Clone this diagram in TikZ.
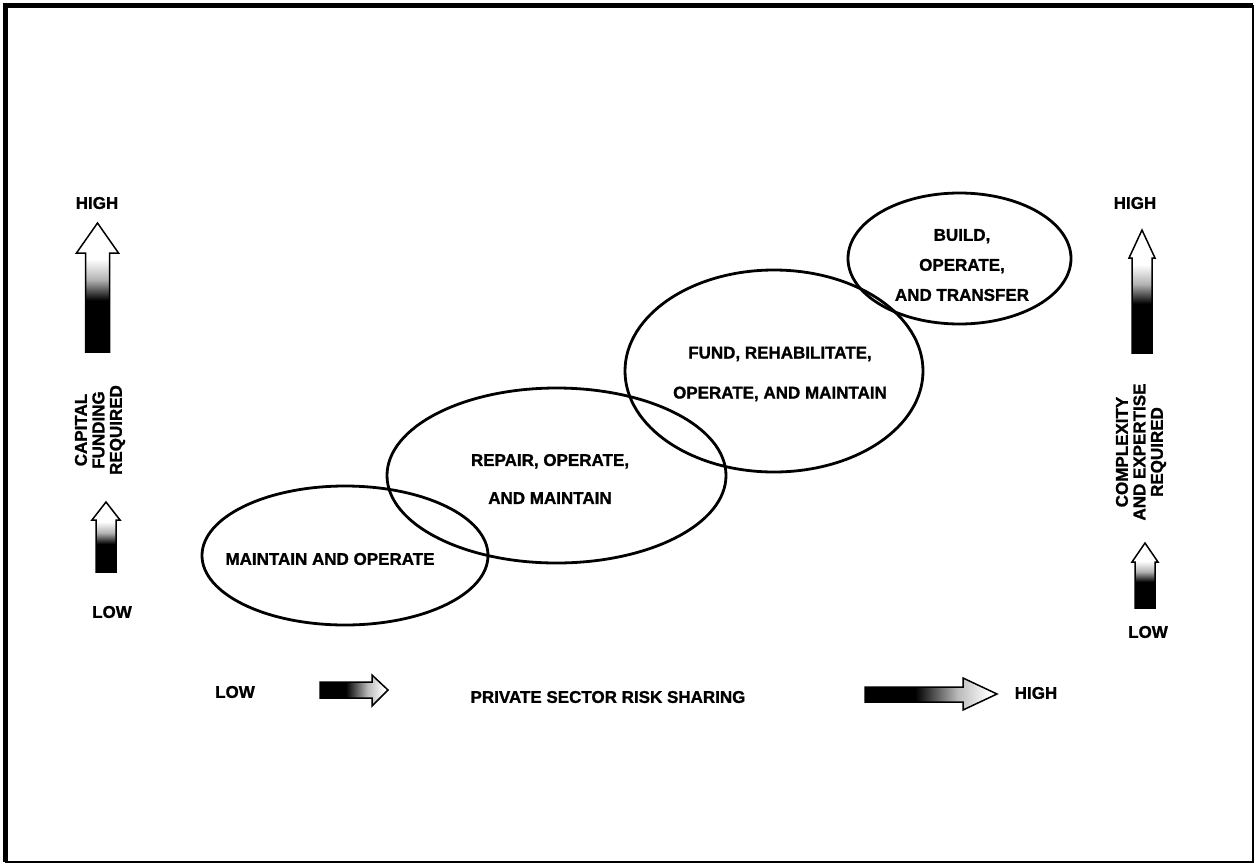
\documentclass[tikz,border=0pt]{standalone}
\usepackage{fontspec}
\setmainfont{Liberation Sans}[BoldFeatures={FakeBold=1.2}]
\usepackage{tikz}
\usetikzlibrary{shapes.geometric, calc, positioning}

% fades for the block arrows (stops kept inside 25bp--75bp)
\pgfdeclareverticalshading{upfade}{100bp}{color(0bp)=(black); color(25bp)=(black); color(45bp)=(black); color(53bp)=(gray!60); color(61bp)=(white); color(75bp)=(white); color(100bp)=(white)}
\pgfdeclarehorizontalshading{rightfade}{100bp}{color(0bp)=(black); color(25bp)=(black); color(44bp)=(black); color(60bp)=(gray!55); color(72bp)=(white); color(75bp)=(white); color(100bp)=(white)}

\begin{document}
\begin{tikzpicture}[
  x=1pt, y=-1pt,
  every node/.style={inner sep=0},
  ring/.style={draw, ellipse, line width=2.8pt},
  lbl/.style={font=\fontsize{17}{#1}\selectfont\bfseries, align=center},
  lbl/.default=17,
  fatup/.style={draw, line width=1.5pt, shading=upfade},
  fatright/.style={draw, line width=1.5pt, shading=rightfade}
]
\useasboundingbox (0,0) rectangle (1256,865);
% frame
\draw[line width=1.5pt] (6,6) rectangle (1253,862);
\draw[line width=5pt] (5.5,862) -- (5.5,5.5) -- (1253,5.5);

% the four contract types
\node[ring, minimum width=286, minimum height=139] (maint) at (345,555.5) {};
\node[ring, minimum width=339, minimum height=175] (repair) at (556.5,475.5) {};
\node[ring, minimum width=298, minimum height=202] (fund) at (774,371) {};
\node[ring, minimum width=223, minimum height=131] (build) at (959.5,258.5) {};

\node[lbl] (maintT) at (330,559) {MAINTAIN AND OPERATE};
\node[lbl=38] (repairT) at (550,479) {REPAIR, OPERATE,\\AND MAINTAIN};
\node[lbl=40] (fundT) at (780,374) {FUND, REHABILITATE,\\OPERATE, AND MAINTAIN};
\node[lbl=30] (buildT) at (962,265) {BUILD,\\OPERATE,\\AND TRANSFER};

% left scale
\node[lbl] (capHigh) at (97,203) {HIGH};
\node[lbl=17.5, rotate=90] (capT) at (100,430) {CAPITAL\\FUNDING\\REQUIRED};
\node[lbl] (capLow) at (112,612) {LOW};
\shade[fatup] (85.5,352) -- (85.5,253) -- (76.5,253) -- (97.5,223) -- (118.5,253) -- (109.5,253) -- (109.5,352) -- cycle;
\shade[fatup] (96,572) -- (96,520) -- (92,520) -- (106,502) -- (120,520) -- (116,520) -- (116,572) -- cycle;

% right scale
\node[lbl] (cxHigh) at (1135,203) {HIGH};
\node[lbl=17.5, rotate=90] (cxT) at (1141,452) {COMPLEXITY\\AND EXPERTISE\\REQUIRED};
\node[lbl] (cxLow) at (1148,632) {LOW};
\shade[fatup] (1132,353) -- (1132,258) -- (1129,258) -- (1142,230) -- (1155,258) -- (1152,258) -- (1152,353) -- cycle;
\shade[fatup] (1135,608) -- (1135,562) -- (1132,562) -- (1145,543) -- (1158,562) -- (1155,562) -- (1155,608) -- cycle;

% bottom scale
\node[lbl] (riskLow) at (235,692) {LOW};
\node[lbl] (riskT) at (608,697) {PRIVATE SECTOR RISK SHARING};
\node[lbl] (riskHigh) at (1036,693) {HIGH};
\shade[fatright] (320,682) -- (372,682) -- (372,675) -- (388,690) -- (372,706) -- (372,698) -- (320,698) -- cycle;
\shade[fatright] (865,687) -- (963,687) -- (963,678) -- (997,694) -- (963,710) -- (963,702) -- (865,702) -- cycle;
\end{tikzpicture}
\end{document}
